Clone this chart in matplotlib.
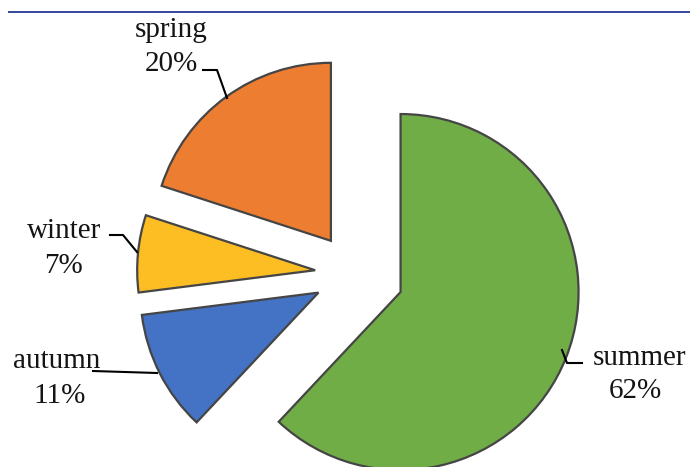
import matplotlib
matplotlib.use('Agg')
import matplotlib.pyplot as plt

seasons = ['summer', 'autumn', 'winter', 'spring']
shares = [62, 11, 7, 20]
colors = ['#70AD47', '#4472C4', '#FDBE24', '#ED7D31']
# offsets from the centre, in axes units (pixels here)
explode = [49, 41, 40, 41]

W, H = 690, 467
fig = plt.figure(figsize=(W / 100, H / 100), dpi=100)
ax = fig.add_axes([0, 0, 1, 1])


# pixel-like coords, y counted from the top
def py(y):
    return H - y


wedges, _ = ax.pie(shares, colors=colors, explode=explode, startangle=90,
                   counterclock=False, radius=178, center=(355, py(274)),
                   frame=True,
                   wedgeprops=dict(edgecolor='#454545', linewidth=1.6))
ax.set_xlim(0, W)
ax.set_ylim(0, H)
ax.set_aspect('equal')
ax.axis('off')

# rule across the top
ax.plot([8, W], [py(12), py(12)], color='#34469A', lw=1.4, solid_capstyle='butt')

font = dict(family='Liberation Serif', fontsize=21, color='#141414',
            ha='center', va='baseline')

# name line, value line (x, baseline) and leader path for each slice
labels = {
    'spring': ((171, 37), (171, 71), [(203, 70), (217, 70), (227, 98)]),
    'winter': ((64, 238), (64, 273), [(110, 235), (123, 235), (137, 252)]),
    'autumn': ((57, 368), (60, 403), [(93, 371), (157, 373)]),
    'summer': ((640, 365), (635, 398), [(582, 363), (567, 363), (562, 350)]),
}
for name, share in zip(seasons, shares):
    (nx, ny), (vx, vy), path = labels[name]
    ax.text(nx, py(ny), name, **font)
    ax.text(vx, py(vy), f'{share}%', **font)
    ax.plot([p[0] for p in path], [py(p[1]) for p in path],
            color='black', lw=1.5)

fig.savefig('out.png', dpi=100)
